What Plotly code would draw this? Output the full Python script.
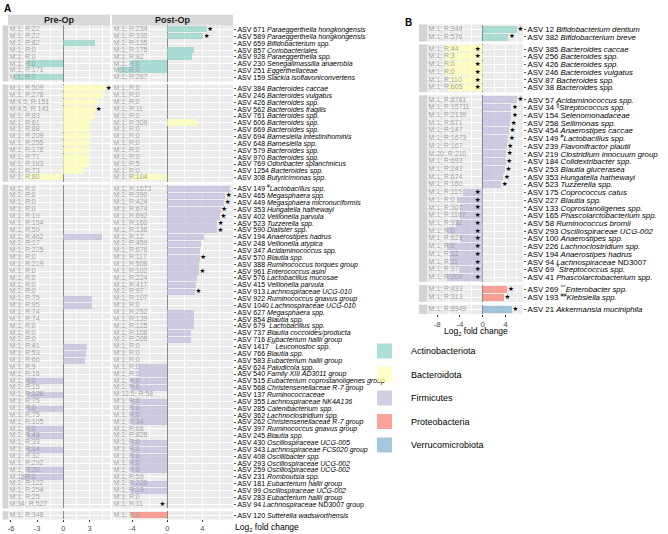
import plotly.graph_objects as go

# ---------------- data ----------------
phyla = ["Actinobacteriota", "Bacteroidota", "Firmicutes", "Proteobacteria", "Verrucomicrobiota"]
phylum_colors = ["#8DD3C7", "#FFFFB3", "#BEBADA", "#FB8072", "#80B1D3"]

# ---- Panel A : Actinobacteriota
a_act_taxa = ["ASV 671 <i>Paraeggerthella hongkongensis</i>", "ASV 589 <i>Paraeggerthella hongkongensis</i>",
              "ASV 659 <i>Bifidobacterium spp.</i>", "ASV 857 <i>Coriobacteriales</i>",
              "ASV 928 <i>Paraeggerthella spp.</i>", "ASV 230 <i>Senegalimassilia anaerobia</i>",
              "ASV 251 <i>Eggerthellaceae</i>", "ASV 159 <i>Slackia isoflavoniconvertens</i>"]
a_act_pre = [0, 0, 3.6, 0, 0, -4.2, 0, -5.7]
a_act_pre_lab = ["M:1; R:22", "M:1; R:22", "M:1; R:82", "M:1; R:0", "M:1; R:0", "M:1; R:0", "M:1; R:171", "M:1; R:7"]
a_act_pre_sig = [0, 0, 0, 0, 0, 0, 0, 0]
a_act_post = [4.5, 4.1, 0, 3.05, 2.8, -4.15, -5.6, 0]
a_act_post_lab = ["M:1; R:234", "M:1; R:330", "M:1; R:135", "M:1; R:175", "M:1; R:92", "M:1; R:0", "M:1; R:0", "M:1; R:267"]
a_act_post_sig = [1, 1, 0, 0, 0, 0, 0, 0]

# ---- Panel A : Bacteroidota
a_bac_taxa = ["ASV 384 <i>Bacteroides caccae</i>", "ASV 246 <i>Bacteroides vulgatus</i>", "ASV 426 <i>Bacteroides spp.</i>",
              "ASV 562 <i>Bacteroides fragilis</i>", "ASV 761 <i>Bacteroides spp.</i>", "ASV 606 <i>Bacteroides spp.</i>",
              "ASV 669 <i>Bacteroides spp.</i>", "ASV 694 <i>Barnesiella intestinihominis</i>", "ASV 648 <i>Barnesiella spp.</i>",
              "ASV 579 <i>Bacteroides spp.</i>", "ASV 970 <i>Bacteroides spp.</i>", "ASV 769 <i>Odoribacter splanchnicus</i>",
              "ASV 1254 <i>Bacteroides spp.</i>", "ASV 308 <i>Butyricimonas spp.</i>"]
a_bac_pre = [4.8, 4.7, 4.0, 3.65, 3.5, 3.1, 3.2, 3.2, 3.1, 3.0, 2.9, 3.0, 2.4, -4.4]
a_bac_pre_lab = ["M:1; R:509", "M:1; R:278", "M:4.5; R:151", "M:4.5; R:141", "M:1; R:83", "M:1; R:61", "M:1; R:88",
                 "M:1; R:209", "M:1; R:255", "M:1; R:178", "M:1; R:71", "M:1; R:183", "M:1; R:73", "M:1; R:80"]
a_bac_pre_sig = [1, 0, 0, 1, 0, 0, 0, 0, 0, 0, 0, 0, 0, 0]
a_bac_post = [0, 0, 0, 0, 0, 3.4, 0, 0, 0, 0, 0, 0, 0, -4.15]
a_bac_post_lab = ["M:1; R:0", "M:1; R:0", "M:1; R:0", "M:1; R:11", "M:1; R:0", "M:1; R:309", "M:1; R:0",
                  "M:1; R:0", "M:1; R:0", "M:1; R:0", "M:1; R:0", "M:1; R:5", "M:1; R:0", "M:1; R:104"]
a_bac_post_sig = [0] * 14

# ---- Panel A : Firmicutes
a_fir_taxa = ["ASV 149 <sup>#</sup><i>Lactobacillus spp.</i>", "ASV 465 <i>Megasphaera spp.</i>",
              "ASV 449 <i>Megasphaera micronuciformis</i>", "ASV 353 <i>Hungatella hathewayi</i>",
              "ASV 402 <i>Veillonella parvula</i>", "ASV 523 <i>Tuzzerella spp.</i>", "ASV 590 <i>Dialister spp.</i>",
              "ASV 194 <i>Anaerostipes hadrus</i>", "ASV 248 <i>Veillonella atypica</i>",
              "ASV 347 <i>Acidaminococcus spp.</i>", "ASV 570 <i>Blautia spp.</i>",
              "ASV 388 <i>Ruminococcus torques group</i>", "ASV 961 <i>Enterococcus asini</i>",
              "ASV 576 <i>Lactobacillus mucosae</i>", "ASV 415 <i>Veillonella parvula</i>",
              "ASV 913 <i>Lachnospiraceae UCG-010</i>", "ASV 922 <i>Ruminococcus gnavus group</i>",
              "ASV 1040 <i>Lachnospiraceae UCG-010</i>", "ASV 627 <i>Megasphaera spp.</i>",
              "ASV 854 <i>Blautia spp.</i>", "ASV 679 <sup>^</sup><i>Lactobacillus spp.</i>",
              "ASV 737 <i>Blautia coccoides/producta</i>", "ASV 716 <i>Eubacterium hallii group</i>",
              "ASV 1417 <sup>^^</sup><i>Leuconostoc spp.</i>", "ASV 766 <i>Blautia spp.</i>",
              "ASV 583 <i>Eubacterium hallii group</i>", "ASV 624 <i>Paludicola spp.</i>",
              "ASV 540 <i>Family XIII AD3011 group</i>", "ASV 515 <i>Eubacterium coprostanoligenes group</i>",
              "ASV 568 <i>Christensenellaceae R-7 group</i>", "ASV 137 <i>Ruminococcaceae</i>",
              "ASV 355 <i>Lachnospiraceae NK4A136</i>", "ASV 285 <i>Catenibacterium spp.</i>",
              "ASV 362 <i>Lachnoclostridium spp.</i>", "ASV 262 <i>Christensenellaceae R-7 group</i>",
              "ASV 397 <i>Ruminococcus gnavus group</i>", "ASV 245 <i>Blautia spp.</i>",
              "ASV 430 <i>Oscillospiraceae UCG-005</i>", "ASV 343 <i>Lachnospiraceae FCS020 group</i>",
              "ASV 408 <i>Oscillibacter spp.</i>", "ASV 293 <i>Oscillospiraceae UCG-002</i>",
              "ASV 259 <i>Oscillospiraceae UCG-002</i>", "ASV 231 <i>Romboutsia spp.</i>",
              "ASV 181 <i>Eubacterium hallii group</i>", "ASV 99 <i>Oscillospiraceae UCG-002</i>",
              "ASV 283 <i>Eubacterium hallii group</i>", "ASV 94 <i>Lachnospiraceae</i> ND3007 group"]
a_fir_pre = [0, 0, 0, 0, 0, 0, 0, 4.4, 0, 0,
             0, 0, 0, 0, 0, 0, 3.3, 3.3, 0, 0,
             0, 0, 0, 2.7, 2.6, 2.5, 0, 0,
             -4.2, 0, -4.2, 0, -4.2, 0, 0, -4.2, -4.2, 0,
             -4.2, 0, 0, -4.2, -4.9, 0, 0, 0, 0]
a_fir_pre_lab = ["M:1; R:0", "M:1; R:0", "M:1; R:0", "M:1; R:0", "M:1; R:19", "M:1; R:154", "M:1; R:59", "M:1; R:462", "M:1; R:17", "M:1; R:225",
                 "M:1; R:0", "M:1; R:219", "M:1; R:0", "M:1; R:0", "M:1; R:0", "M:1; R:0", "M:1; R:75", "M:1; R:95", "M:1; R:74", "M:1; R:74",
                 "M:1; R:0", "M:1; R:0", "M:1; R:0", "M:1; R:41", "M:1; R:53", "M:1; R:66", "M:1; R:9", "M:1; R:16",
                 "M:1; R:0", "M:1; R:15", "M:1; R:128", "M:1; R:75", "M:1; R:0", "M:1; R:75", "M:1; R:105", "M:1; R:0", "M:1; R:43", "M:1; R:33",
                 "M:1; R:14", "M:1; R:32", "M:1; R:292", "M:1; R:20", "M:1; R:0", "M:1; R:122", "M:1; R:254", "M:1; R:25", "M:34; R:527"]
a_fir_pre_sig = [0] * 47
a_fir_post = [7.17, 6.6, 6.48, 6.1, 6.0, 5.7, 5.65, 4.2, 3.9, 3.7,
              3.7, 3.65, 3.6, 3.35, 3.3, 3.15, 0, 0, 3.1, 3.1,
              3.0, 2.7, 2.7, 0, 0, 0, -3.2, -3.2,
              -4.1, -4.1, 0, -4.1, -4.1, -4.1, -4.1, 0, 0, -4.1,
              -4.1, -4.1, -4.1, -4.1, 0, -4.1, -4.1, 0, -0.2]
a_fir_post_lab = ["M:1; R:1673", "M:1; R:390", "M:1; R:424", "M:1; R:674", "M:1; R:692", "M:1; R:160", "M:1; R:138", "M:1; R:12", "M:1; R:459", "M:1; R:676",
                  "M:1; R:117", "M:1; R:508", "M:1; R:102", "M:1; R:224", "M:1; R:417", "M:1; R:97", "M:1; R:107", "M:1; R:0", "M:1; R:252", "M:1; R:139",
                  "M:1; R:125", "M:1; R:108", "M:1; R:206", "M:1; R:0", "M:1; R:0", "M:1; R:0", "M:1; R:0", "M:1; R:0",
                  "M:1; R:0", "M:1; R:0", "M:12.5; R:58", "M:1; R:0", "M:1; R:0", "M:1; R:0", "M:1; R:34", "M:1; R:68", "M:1; R:826", "M:1; R:0",
                  "M:1; R:0", "M:1; R:0", "M:1; R:0", "M:1; R:0", "M:1; R:59", "M:1; R:220", "M:1; R:19", "M:1; R:0", "M:1; R:11"]
a_fir_post_sig = [1, 1, 1, 1, 1, 1, 1, 0, 0, 0,
                  1, 0, 1, 0, 0, 1, 0, 0, 0, 0,
                  0, 0, 0, 0, 0, 0, 0, 0,
                  0, 0, 0, 0, 0, 0, 0, 0, 0, 0,
                  0, 0, 0, 0, 0, 0, 0, 0, 1]

# ---- Panel A : Proteobacteria
a_pro_taxa = ["ASV 120 <i>Sutterella wadsworthensis</i>"]
a_pro_pre = [0]
a_pro_pre_lab = ["M:1; R:348"]
a_pro_pre_sig = [0]
a_pro_post = [-4.15]
a_pro_post_lab = ["M:1; R:0"]
a_pro_post_sig = [0]

# ---- Panel B
b_act_taxa = ["ASV 12 <i>Bifidobacterium dentium</i>", "ASV 382 <i>Bifidobacterium breve</i>"]
b_act_val = [6.0, 4.5]
b_act_lab = ["M:1; R:348", "M:1; R:576"]
b_act_sig = [1, 1]

b_bac_taxa = ["ASV 385 <i>Bacteroides caccae</i>", "ASV 256 <i>Bacteroides spp.</i>", "ASV 426 <i>Bacteroides spp.</i>",
              "ASV 246 <i>Bacteroides vulgatus</i>", "ASV 87 <i>Bacteroides spp.</i>", "ASV 38 <i>Bacteroides spp.</i>"]
b_bac_val = [-6.6, -6.7, -6.7, -6.7, -5.8, -6.1]
b_bac_lab = ["M:1; R:44", "M:1; R:3", "M:1; R:0", "M:1; R:0", "M:1; R:110", "M:1; R:605"]
b_bac_sig = [1, 1, 1, 1, 1, 1]

b_fir_taxa = ["ASV 57 <i>Acidaminococcus spp.</i>", "ASV 34 <sup>§</sup><i>Streptococcus spp.</i>",
              "ASV 154 <i>Selenomonadaceae</i>", "ASV 258 <i>Sellimonas spp.</i>", "ASV 454 <i>Anaerostipes caccae</i>",
              "ASV 149 <sup>#</sup><i>Lactobacillus spp.</i>", "ASV 239 <i>Flavonifractor plautii</i>",
              "ASV 219 <i>Clostridium innocuum group</i>", "ASV 184 <i>Colidextribacter spp.</i>",
              "ASV 253 <i>Blautia glucerasea</i>", "ASV 353 <i>Hungatella hathewayi</i>", "ASV 523 <i>Tuzzerella spp.</i>",
              "ASV 175 <i>Coprococcus catus</i>", "ASV 227 <i>Blautia spp.</i>", "ASV 133 <i>Coprostanoligenes spp.</i>",
              "ASV 165 <i>Phascolarctobacterium spp.</i>", "ASV 58 <i>Ruminococcus bromii</i>",
              "ASV 293 <i>Oscillospiraceae UCG-002</i>", "ASV 100 <i>Anaerostipes spp.</i>",
              "ASV 226 <i>Lachnoclostridium spp.</i>", "ASV 194 <i>Anaerostipes hadrus</i>",
              "ASV 94 <i>Lachnospiraceae</i> ND3007", "ASV 69 <sup>^</sup><i>Streptococcus spp.</i>",
              "ASV 41 <i>Phascolarctobacterium spp.</i>"]
b_fir_val = [6.0, 5.0, 5.0, 4.8, 4.6, 4.5, 4.2, 4.1, 4.0, 3.9, 3.6, 3.2,
             -3.4, -4.5, -3.9, -4.0, -4.7, -6.2, -4.0, -6.2, -5.8, -5.8, -4.1, -6.2]
b_fir_lab = ["M:1; R:8781", "M:1; R:15711", "M:1; R:2139", "M:1; R:671", "M:1; R:147", "M:1; R:1673", "M:1; R:167",
             "M:20; R:210", "M:1; R:693", "M:1; R:243", "M:1; R:674", "M:1; R:160", "M:1; R:115", "M:1; R:0",
             "M:1; R:307", "M:1; R:1167", "M:1; R:932", "M:1; R:0", "M:1; R:629", "M:1; R:0", "M:1; R:12",
             "M:1; R:11", "M:1; R:97", "M:1; R:209"]
b_fir_sig = [1] * 24

b_pro_taxa = ["ASV 269 <sup>^^</sup><i>Enterobacter spp.</i>", "ASV 193 <sup>##</sup><i>Klebsiella spp.</i>"]
b_pro_val = [4.3, 3.7]
b_pro_lab = ["M:1; R:433", "M:1; R:313"]
b_pro_sig = [1, 1]

b_ver_taxa = ["ASV 21 <i>Akkermansia muciniphila</i>"]
b_ver_val = [5.1]
b_ver_lab = ["M:1; R:8949"]
b_ver_sig = [1]

pre_ticks = [-6, -3, 0, 3]
pre_tick_text = ["-6", "-3", "0", "3"]
post_ticks = [-4, 0, 4]
post_tick_text = ["-4", "0", "4"]
b_ticks = [-8, -4, 0, 4]
b_tick_text = ["-8", "-4", "0", "4"]

# ---------------- drawing ----------------
W, H = 668, 534
FONT = "Liberation Sans, Arial, sans-serif"


def fx(p):
    return p / W


def fy(p):
    return 1 - p / H


def rgba(h, a):
    h = h.lstrip("#")
    return "rgba(%d,%d,%d,%.2f)" % (int(h[0:2], 16), int(h[2:4], 16), int(h[4:6], 16), a)


fig = go.Figure()
layout = {}
shapes = []
annotations = []
counter = [0]


def add_panel(x0, x1, y0, y1, xrange, taxa, vals, labs, sig, color,
              show_y, show_x, ticks, tick_text, tick_size, y_size, minor_vals):
    counter[0] += 1
    k = counter[0]
    xn = "x" if k == 1 else "x%d" % k
    yn = "y" if k == 1 else "y%d" % k
    ppu = (x1 - x0) / (xrange[1] - xrange[0])
    n = len(vals)
    rows = list(range(n))
    fig.add_trace(go.Bar(x=vals, y=rows, orientation="h", width=0.9, xaxis=xn, yaxis=yn,
                         marker=dict(color=rgba(color, 0.72), line=dict(width=0)),
                         hoverinfo="skip", showlegend=False))
    fig.add_trace(go.Scatter(x=[xrange[0] + 1.6 / ppu] * n, y=rows, mode="text", text=labs,
                             textposition="middle right", xaxis=xn, yaxis=yn, cliponaxis=False,
                             textfont=dict(family=FONT, size=6.9, color="rgba(150,150,150,0.9)"),
                             hoverinfo="skip", showlegend=False))
    sx, sy = [], []
    for v, s, r in zip(vals, sig, rows):
        if s:
            sx.append(v + 3.6 / ppu if v > 0 else -5.0 / ppu)
            sy.append(r)
    if sx:
        fig.add_trace(go.Scatter(x=sx, y=sy, mode="text", text=["★"] * len(sx), textposition="middle center",
                                 xaxis=xn, yaxis=yn, cliponaxis=False,
                                 textfont=dict(family="DejaVu Sans", size=6.5, color="black"),
                                 hoverinfo="skip", showlegend=False))
    xk = "xaxis" if k == 1 else "xaxis%d" % k
    yk = "yaxis" if k == 1 else "yaxis%d" % k
    layout[xk] = dict(domain=[fx(x0), fx(x1)], range=xrange, anchor=yn, tickvals=ticks, ticktext=tick_text,
                      showticklabels=show_x, ticks="outside" if show_x else "", ticklen=2, tickwidth=0.6,
                      tickcolor="#333333", tickfont=dict(family=FONT, size=tick_size, color="#4d4d4d"),
                      showgrid=True, gridcolor="white", gridwidth=0.9, zeroline=True,
                      zerolinecolor="#8a8a8a", zerolinewidth=0.8, showline=False, fixedrange=True,
                      minor=dict(tickvals=minor_vals, showgrid=True, gridcolor="white", gridwidth=0.45, ticks=""))
    layout[yk] = dict(domain=[fy(y1), fy(y0)], range=[n - 1 + 0.6, -0.6], anchor=xn, tickvals=rows,
                      ticktext=taxa, showticklabels=show_y, side="right", ticks="outside" if show_y else "",
                      ticklen=2, tickwidth=0.5, tickcolor="#555555",
                      tickfont=dict(family=FONT, size=y_size, color="black"),
                      showgrid=True, gridcolor="white", gridwidth=0.9, zeroline=False, showline=False,
                      fixedrange=True)


def stack(start, unit, gap, counts):
    out = []
    y = start
    for c in counts:
        h = (c + 0.2) * unit
        out.append((y, y + h))
        y += h + gap
    return out


# ---- Panel A
pre_x = (8.0, 110.0)
post_x = (112.0, 233.0)
pre_range = [(8.0 - 63.3) / 8.72, (110.0 - 63.3) / 8.72]
post_range = [(112.0 - 167.3) / 8.75, (233.0 - 167.3) / 8.75]
a_groups = [
    (a_act_taxa, a_act_pre, a_act_pre_lab, a_act_pre_sig, a_act_post, a_act_post_lab, a_act_post_sig, phylum_colors[0]),
    (a_bac_taxa, a_bac_pre, a_bac_pre_lab, a_bac_pre_sig, a_bac_post, a_bac_post_lab, a_bac_post_sig, phylum_colors[1]),
    (a_fir_taxa, a_fir_pre, a_fir_pre_lab, a_fir_pre_sig, a_fir_post, a_fir_post_lab, a_fir_post_sig, phylum_colors[2]),
    (a_pro_taxa, a_pro_pre, a_pro_pre_lab, a_pro_pre_sig, a_pro_post, a_pro_post_lab, a_pro_post_sig, phylum_colors[3]),
]
a_spans = stack(25.4, 6.86, 2.8, [len(g[0]) for g in a_groups])
for i, (g, (y0, y1)) in enumerate(zip(a_groups, a_spans)):
    last = i == len(a_groups) - 1
    taxa, pv, pl, ps, qv, ql, qs, col = g
    add_panel(pre_x[0], pre_x[1], y0, y1, pre_range, taxa, pv, pl, ps, col, False, last,
              pre_ticks, pre_tick_text, 7.5, 7.0, [-4.5, -1.5, 1.5, 4.5])
    add_panel(post_x[0], post_x[1], y0, y1, post_range, taxa, qv, ql, qs, col, True, last,
              post_ticks, post_tick_text, 7.5, 7.0, [-6, -2, 2, 6])
    shapes.append(dict(type="rect", xref="paper", yref="paper", x0=fx(2.5), x1=fx(8.0),
                       y0=fy(y1), y1=fy(y0), fillcolor="#D4D4D4", line=dict(width=0), layer="below"))

# top strips
for (x0, x1), label in [(pre_x, "Pre-Op"), (post_x, "Post-Op")]:
    shapes.append(dict(type="rect", xref="paper", yref="paper", x0=fx(x0), x1=fx(x1), y0=fy(25.4), y1=fy(14.8),
                       fillcolor="#D9D9D9", line=dict(width=0), layer="below"))
    annotations.append(dict(xref="paper", yref="paper", x=fx((x0 + x1) / 2), y=fy(20.3), text="<b>%s</b>" % label,
                            showarrow=False, font=dict(family=FONT, size=9, color="#1a1a1a"),
                            xanchor="center", yanchor="middle"))

# ---- Panel B
b_x = (427.0, 523.0)
b_range = [(427.0 - 482.7) / 5.7, (523.0 - 482.7) / 5.7]
b_groups = [
    (b_act_taxa, b_act_val, b_act_lab, b_act_sig, phylum_colors[0]),
    (b_bac_taxa, b_bac_val, b_bac_lab, b_bac_sig, phylum_colors[1]),
    (b_fir_taxa, b_fir_val, b_fir_lab, b_fir_sig, phylum_colors[2]),
    (b_pro_taxa, b_pro_val, b_pro_lab, b_pro_sig, phylum_colors[3]),
    (b_ver_taxa, b_ver_val, b_ver_lab, b_ver_sig, phylum_colors[4]),
]
b_spans = stack(24.5, 7.72, 2.9, [len(g[0]) for g in b_groups])
for i, (g, (y0, y1)) in enumerate(zip(b_groups, b_spans)):
    last = i == len(b_groups) - 1
    taxa, v, l, s, col = g
    add_panel(b_x[0], b_x[1], y0, y1, b_range, taxa, v, l, s, col, True, last,
              b_ticks, b_tick_text, 8, 7.8, [-6, -2, 2, 6])
    shapes.append(dict(type="rect", xref="paper", yref="paper", x0=fx(419.0), x1=fx(427.0),
                       y0=fy(y1), y1=fy(y0), fillcolor="#D4D4D4", line=dict(width=0), layer="below"))

# axis titles
annotations.append(dict(xref="paper", yref="paper", x=fx(267), y=fy(527), text="Log<sub>2</sub> fold change",
                        showarrow=False, font=dict(family=FONT, size=8.5, color="black"),
                        xanchor="center", yanchor="middle"))
annotations.append(dict(xref="paper", yref="paper", x=fx(476), y=fy(331), text="Log<sub>2</sub> fold change",
                        showarrow=False, font=dict(family=FONT, size=8.5, color="black"),
                        xanchor="center", yanchor="middle"))
# panel letters
annotations.append(dict(xref="paper", yref="paper", x=fx(2), y=fy(8), text="<b>A</b>", showarrow=False,
                        font=dict(family=FONT, size=10, color="black"), xanchor="left", yanchor="middle"))
annotations.append(dict(xref="paper", yref="paper", x=fx(403), y=fy(23), text="<b>B</b>", showarrow=False,
                        font=dict(family=FONT, size=10, color="black"), xanchor="left", yanchor="middle"))

# legend
leg_y = [351, 374.5, 398, 421.5, 445]
for name, col, yc in zip(phyla, phylum_colors, leg_y):
    shapes.append(dict(type="rect", xref="paper", yref="paper", x0=fx(377), x1=fx(392),
                       y0=fy(yc + 7.5), y1=fy(yc - 7.5), fillcolor=rgba(col, 0.72), line=dict(width=0)))
    annotations.append(dict(xref="paper", yref="paper", x=fx(409), y=fy(yc), text=name, showarrow=False,
                            font=dict(family=FONT, size=9, color="black"), xanchor="left", yanchor="middle"))

fig.update_layout(width=W, height=H, margin=dict(l=0, r=0, t=0, b=0), paper_bgcolor="white",
                  plot_bgcolor="#EBEBEB", showlegend=False, shapes=shapes, annotations=annotations,
                  bargap=0, **layout)
fig.write_html("out.html", config={"displayModeBar": False},
               post_script="document.body.style.margin='0';document.body.style.padding='0';")
